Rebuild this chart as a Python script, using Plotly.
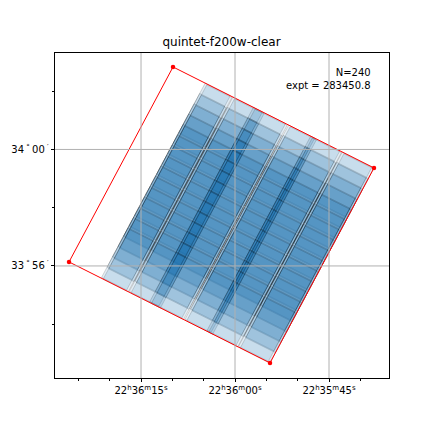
import plotly.graph_objects as go

TITLE = "quintet-f200w-clear"
ANNOT = "N=240<br>expt = 283450.8"
CORNER_RA = [339.04122, 338.90758, 338.97673, 339.11037]
CORNER_DEC = [34.04721, 33.98941, 33.87783, 33.93562]
RA_TICKS = [339.0625, 339.0, 338.9375]
RA_LABELS = ["22<sup>h</sup>36<sup>m</sup>15<sup>s</sup>", "22<sup>h</sup>36<sup>m</sup>00<sup>s</sup>", "22<sup>h</sup>35<sup>m</sup>45<sup>s</sup>"]
DEC_TICKS = [34.0, 33.93333]
DEC_LABELS = ["34<sup> ° </sup>00<sup> ′</sup>", "33<sup> ° </sup>56<sup> ′</sup>"]
# footprint layout as fractions of the red tile's two sides
CELL_START = [0.160, 0.298, 0.400, 0.575, 0.685, 0.842]
CELL_END = [0.285, 0.445, 0.560, 0.705, 0.830, 0.990]
DITHER_U = [0.0, 0.010]
DITHER_V = [0.0, 0.004]
STEP_V = [0.000, 0.053, 0.106, 0.159, 0.212, 0.265, 0.318, 0.371,
          0.424, 0.477, 0.530, 0.583, 0.636, 0.689, 0.742]
HEIGHT_V = 0.2545

def sky(u, v):
    ra = CORNER_RA[0] + u * (CORNER_RA[1] - CORNER_RA[0]) + v * (CORNER_RA[3] - CORNER_RA[0])
    dec = CORNER_DEC[0] + u * (CORNER_DEC[1] - CORNER_DEC[0]) + v * (CORNER_DEC[3] - CORNER_DEC[0])
    return ra, dec

fig = go.Figure()
for sv in STEP_V:
    for us, ue in zip(CELL_START, CELL_END):
        for du, dv in zip(DITHER_U, DITHER_V):
            pts = [sky(us + du, sv + dv), sky(ue + du, sv + dv), sky(ue + du, sv + dv + HEIGHT_V), sky(us + du, sv + dv + HEIGHT_V), sky(us + du, sv + dv)]
            fig.add_trace(go.Scatter(x=[p[0] for p in pts], y=[p[1] for p in pts], mode="lines", fill="toself",
                                     fillcolor="rgba(31,119,180,0.13)", line=dict(color="rgba(0,0,0,0.2)", width=0.8),
                                     hoverinfo="skip", showlegend=False))
fig.add_trace(go.Scatter(x=CORNER_RA + CORNER_RA[:1], y=CORNER_DEC + CORNER_DEC[:1], mode="lines",
                         line=dict(color="red", width=1), hoverinfo="skip", showlegend=False))
fig.add_trace(go.Scatter(x=CORNER_RA, y=CORNER_DEC, mode="markers", marker=dict(color="red", size=4.5), hoverinfo="skip", showlegend=False))
shapes = []
for t in RA_TICKS:
    shapes.append(dict(type="line", xref="x", yref="paper", x0=t, x1=t, y0=0, y1=1, line=dict(color="#b0b0b0", width=1), layer="above"))
for t in DEC_TICKS:
    shapes.append(dict(type="line", xref="paper", yref="y", x0=0, x1=1, y0=t, y1=t, line=dict(color="#b0b0b0", width=1), layer="above"))

fig.update_layout(
    width=424, height=424, margin=dict(l=47, r=43, t=45, b=54), paper_bgcolor="white", plot_bgcolor="white",
    font=dict(family="DejaVu Sans", size=10, color="black"), shapes=shapes,
    title=dict(text=TITLE, x=213.5/424, xanchor="center", y=1-34/424, yanchor="middle", font=dict(size=12, color="black")),
    annotations=[dict(text=ANNOT, xref="paper", yref="paper", x=0.953, y=0.964, xanchor="right", yanchor="top", align="right", showarrow=False, font=dict(size=10, color="black"))],
    xaxis=dict(automargin=False, range=[339.1197, 338.8976], tickvals=RA_TICKS, ticktext=RA_LABELS, ticks="outside", ticklen=3.5, tickwidth=0.8, tickcolor="black",
               showgrid=False, zeroline=False, showline=True, mirror=True, linecolor="black", linewidth=0.8,
               minor=dict(tickvals=[339.104167, 339.083333, 339.041667, 339.020833, 338.979167, 338.958333, 338.916667], ticks="outside", ticklen=2, tickwidth=0.6, tickcolor="black", showgrid=False)),
    yaxis=dict(automargin=False, range=[33.8692, 34.0552], tickvals=DEC_TICKS, ticktext=DEC_LABELS, ticks="outside", ticklen=3.5, tickwidth=0.8, tickcolor="black",
               showgrid=False, zeroline=False, showline=True, mirror=True, linecolor="black", linewidth=0.8,
               minor=dict(tickvals=[34.03333, 33.96667, 33.9], ticks="outside", ticklen=2, tickwidth=0.6, tickcolor="black", showgrid=False)),
)
fig.write_html("out.html")
